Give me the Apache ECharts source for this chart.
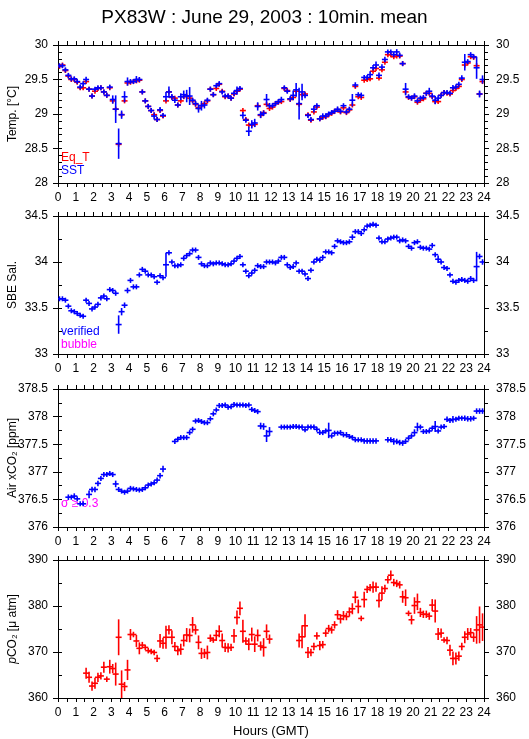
<!DOCTYPE html>
<html><head><meta charset="utf-8">
<script src="https://cdn.jsdelivr.net/npm/echarts@6/dist/echarts.min.js"></script>
<style>html,body{margin:0;padding:0;background:#fff}#c{width:529px;height:739px}</style>
</head><body><div id="c"></div>
<script>
// 10-minute bins over the day (index i -> centre of bin)
const binMinutes = 10;
const hourLabels = ['0','1','2','3','4','5','6','7','8','9','10','11','12','13','14','15','16','17','18','19','20','21','22','23','24'];

const sst = [
29.70,29.70,29.64,29.56,29.51,29.51,29.47,29.39,29.44,29.50,29.36,29.26,
29.36,29.38,29.38,29.32,29.27,29.39,29.21,29.07,28.57,28.99,29.25,29.47,
29.47,29.47,29.50,29.50,29.32,29.19,29.11,29.05,28.97,28.92,29.06,28.98,
29.25,29.32,29.25,29.20,29.13,29.25,29.28,29.26,29.26,29.20,29.15,29.08,
29.12,29.13,29.20,29.36,29.28,29.41,29.44,29.32,29.26,29.26,29.23,29.30,
29.34,29.37,28.98,28.91,28.75,28.85,28.87,29.11,28.99,29.01,29.21,29.12,
29.12,29.15,29.18,29.21,29.38,29.33,29.22,29.27,29.35,29.15,29.32,29.27,
28.98,28.92,29.07,29.12,28.93,28.97,28.97,29.00,29.02,29.04,29.07,29.04,
29.12,29.03,29.07,29.20,29.42,29.28,29.27,29.53,29.53,29.57,29.67,29.71,
29.56,29.68,29.79,29.90,29.90,29.86,29.90,29.85,29.73,29.36,29.25,29.23,
29.26,29.19,29.23,29.24,29.30,29.33,29.26,29.20,29.23,29.27,29.31,29.31,
29.30,29.38,29.39,29.43,29.52,29.75,29.76,29.86,29.83,29.67,29.29,29.50];
const sstSd = [
.02,.02,.03,.03,.02,.02,.03,.02,.03,.04,.03,.02,
.03,.03,.02,.02,.02,.03,.06,.20,.22,.06,.08,.06,
.03,.03,.05,.03,.03,.03,.02,.03,.05,.03,.04,.02,
.07,.08,.04,.04,.03,.05,.06,.09,.13,.03,.04,.06,
.07,.05,.03,.03,.02,.03,.03,.03,.03,.02,.02,.04,
.06,.03,.05,.03,.07,.06,.06,.06,.05,.04,.08,.04,
.03,.03,.03,.04,.03,.03,.04,.07,.10,.23,.12,.04,
.02,.02,.05,.03,.03,.04,.04,.02,.02,.03,.04,.03,
.03,.03,.03,.09,.04,.03,.04,.03,.03,.05,.04,.05,
.04,.04,.04,.03,.03,.03,.04,.04,.03,.09,.03,.03,
.04,.03,.03,.03,.03,.05,.04,.06,.04,.03,.02,.02,
.02,.04,.03,.03,.04,.12,.03,.02,.02,.16,.05,.06];
const eqT = [
29.69,29.71,29.63,29.55,29.50,29.50,29.46,29.38,29.38,29.47,29.36,29.26,
29.33,29.37,29.38,29.32,29.27,29.38,29.19,29.07,28.56,28.99,29.19,29.45,
29.46,29.47,29.48,29.49,29.32,29.19,29.11,29.05,28.99,28.92,29.05,28.97,
29.19,29.32,29.24,29.23,29.13,29.19,29.25,29.26,29.23,29.19,29.14,29.09,
29.12,29.15,29.19,29.36,29.28,29.37,29.43,29.33,29.25,29.26,29.23,29.29,
29.33,29.36,29.05,28.92,28.84,28.84,28.85,29.12,28.98,29.02,29.14,29.08,
29.10,29.15,29.17,29.18,29.37,29.34,29.21,29.24,29.33,29.14,29.28,29.29,
28.99,28.91,29.03,29.10,28.93,28.95,28.96,28.99,29.01,29.04,29.06,29.03,
29.09,29.02,29.06,29.13,29.40,29.25,29.24,29.49,29.50,29.51,29.62,29.66,
29.52,29.64,29.75,29.86,29.86,29.83,29.84,29.84,29.73,29.32,29.24,29.23,
29.25,29.17,29.20,29.22,29.30,29.30,29.25,29.18,29.18,29.27,29.31,29.30,
29.29,29.34,29.37,29.40,29.50,29.71,29.74,29.83,29.82,29.70,29.29,29.47];
const eqTSd = [
.01,.01,.01,.01,.01,.01,.01,.01,.01,.01,.01,.01,
.01,.01,.01,.01,.01,.01,.01,.02,.02,.01,.01,.01,
.01,.01,.01,.01,.01,.01,.01,.01,.01,.01,.01,.01,
.01,.01,.01,.01,.01,.01,.01,.01,.01,.01,.01,.01,
.01,.01,.01,.01,.01,.01,.01,.01,.01,.01,.01,.01,
.01,.01,.01,.01,.01,.01,.01,.01,.01,.01,.01,.01,
.01,.01,.01,.01,.01,.01,.01,.01,.01,.02,.01,.01,
.01,.01,.01,.01,.01,.01,.01,.01,.01,.01,.01,.01,
.01,.01,.01,.01,.01,.01,.01,.01,.01,.01,.01,.01,
.01,.01,.01,.01,.01,.01,.01,.01,.01,.01,.01,.01,
.01,.01,.01,.01,.01,.01,.01,.01,.01,.01,.01,.01,
.01,.01,.01,.01,.01,.02,.01,.01,.01,.02,.01,.01];

const sal = [
33.60,33.60,33.585,33.52,33.47,33.46,33.44,33.42,33.41,33.585,33.55,33.49,
33.51,33.54,33.61,33.63,33.60,33.70,33.69,33.66,33.32,33.46,33.53,33.69,
33.80,33.73,33.73,33.86,33.92,33.90,33.86,33.86,33.84,33.78,33.85,33.83,
33.97,34.10,34.00,33.96,33.96,33.97,34.04,34.07,34.09,34.13,34.13,34.05,
33.98,33.96,33.96,33.99,33.98,33.99,33.99,33.98,33.97,33.97,33.98,34.01,
34.04,34.06,33.97,33.90,33.85,33.88,33.91,33.96,33.95,33.95,34.00,34.00,
34.00,33.99,34.01,34.05,34.05,33.97,33.94,33.95,33.99,33.90,33.90,33.87,
33.82,33.91,34.00,34.03,34.02,34.05,34.11,34.11,34.10,34.17,34.23,34.22,
34.21,34.21,34.22,34.27,34.33,34.33,34.31,34.35,34.39,34.40,34.41,34.40,
34.26,34.22,34.22,34.25,34.26,34.27,34.27,34.23,34.24,34.23,34.17,34.15,
34.21,34.22,34.16,34.15,34.15,34.14,34.18,34.08,34.03,34.00,33.94,33.93,
33.86,33.79,33.78,33.80,33.81,33.80,33.79,33.82,33.80,33.95,34.06,34.00];
const salSd = [
.005,.005,.01,.02,.005,.005,.005,.005,.02,.02,.02,.01,
.01,.01,.02,.01,.01,.02,.01,.02,.10,.04,.03,.03,
.01,.02,.02,.02,.01,.01,.01,.01,.01,.01,.02,.01,
.13,.01,.01,.01,.005,.005,.01,.01,.01,.01,.005,.02,
.01,.005,.005,.005,.005,.005,.005,.005,.005,.005,.005,.01,
.01,.01,.02,.02,.02,.01,.01,.01,.01,.01,.005,.005,
.005,.005,.005,.01,.005,.01,.01,.01,.02,.02,.02,.02,
.01,.02,.01,.01,.005,.01,.005,.005,.005,.02,.005,.005,
.005,.005,.005,.03,.01,.01,.01,.01,.005,.005,.005,.02,
.02,.005,.005,.005,.005,.005,.005,.02,.02,.02,.01,.005,
.02,.02,.005,.005,.005,.005,.01,.005,.04,.005,.005,.005,
.01,.02,.005,.005,.005,.005,.005,.005,.005,.16,.03,.03];

const xco2 = [
null,null,null,376.54,376.54,376.56,376.51,376.42,376.42,null,376.59,376.68,
376.68,376.79,376.88,376.95,376.95,376.97,376.95,376.78,376.68,376.65,376.63,376.65,
376.70,376.69,376.68,376.67,376.68,376.71,376.76,376.78,376.80,376.85,376.93,377.05,
null,null,null,377.55,377.59,377.62,377.62,377.62,377.71,377.77,377.92,377.93,
377.91,377.89,377.89,377.96,378.05,378.12,378.20,378.20,378.21,378.17,378.18,378.22,
378.21,378.21,378.21,378.20,378.21,378.13,378.11,378.09,377.83,377.82,377.65,377.73,
null,null,null,377.81,377.81,377.81,377.81,377.82,377.82,377.81,377.81,377.76,
377.81,377.81,377.81,377.77,377.71,377.71,377.74,377.75,377.65,377.70,377.70,377.71,
377.67,377.67,377.64,377.62,377.58,377.58,377.58,377.56,377.56,377.56,377.56,377.56,
null,null,null,377.58,377.58,377.55,377.55,377.53,377.52,377.55,377.61,377.65,
377.71,377.81,377.81,377.73,377.73,377.74,377.79,377.82,377.74,377.81,377.82,377.95,
377.93,377.95,377.95,377.97,377.97,377.97,377.96,377.96,377.97,378.10,378.10,378.10];
const xco2Sd = [
0,0,0,.05,.03,.05,.03,.04,.03,0,.07,.05,
.05,.05,.03,.03,.03,.03,.03,.06,.03,.03,.03,.03,
.03,.04,.03,.03,.03,.03,.03,.03,.03,.04,.05,.06,
0,0,0,.03,.03,.03,.03,.03,.03,.04,.04,.03,
.03,.03,.03,.03,.03,.03,.03,.03,.03,.03,.03,.03,
.03,.03,.03,.03,.03,.03,.03,.03,.06,.06,.11,.08,
0,0,0,.04,.03,.03,.03,.03,.03,.03,.03,.03,
.03,.03,.03,.03,.04,.04,.03,.14,.03,.03,.03,.04,
.03,.05,.03,.04,.03,.04,.03,.05,.05,.05,.05,.05,
0,0,0,.05,.04,.06,.05,.05,.05,.04,.04,.03,
.06,.08,.04,.04,.04,.03,.04,.10,.04,.03,.03,.05,
.04,.06,.04,.03,.03,.05,.05,.05,.04,.05,.05,.05];

const pco2 = [
null,null,null,null,null,null,null,null,null,365.4,364.5,362.6,
363.2,364.5,364.8,366.7,364.1,366.8,366.4,365.2,373.2,363.0,362.5,366.1,
373.8,373.8,372.4,370.8,371.5,371.0,370.3,370.1,369.9,368.6,372.4,371.9,
373.2,374.8,373.2,371.2,370.3,370.6,372.5,373.7,373.6,375.9,374.8,372.1,
369.7,369.7,369.9,373.0,372.6,373.6,374.5,372.5,371.0,370.9,371.0,373.5,
377.5,379.5,374.5,372.4,371.7,373.8,371.7,373.6,371.3,371.0,374.5,372.8,
null,null,null,null,null,null,null,null,null,372.5,373.3,375.7,
369.9,369.9,371.2,373.5,371.4,371.6,374.1,375.1,374.8,375.9,378.1,377.2,
377.9,377.7,378.7,379.4,381.9,379.9,377.3,381.4,383.6,384.0,384.1,384.1,
381.2,382.8,383.8,385.7,386.7,385.1,384.9,384.6,382.0,381.8,378.4,377.0,
380.1,380.9,378.6,378.2,378.2,377.8,380.2,378.9,373.9,374.1,372.6,372.5,
370.4,368.6,368.6,369.1,371.2,373.2,373.9,374.2,373.2,374.8,375.9,375.4];
const pco2Sd = [
0,0,0,0,0,0,0,0,0,1.2,1.2,1.0,
1.2,1.0,0.8,1.2,0.6,1.5,1.0,2.5,3.9,3.0,1.0,2.2,
1.2,0.6,1.3,1.3,0.7,0.6,0.6,0.6,0.6,0.8,1.5,1.2,
2.5,1.0,1.5,1.0,1.0,1.2,1.3,1.5,1.5,1.7,1.0,1.5,
1.2,1.0,1.5,0.8,0.6,1.2,1.3,1.5,1.0,1.0,0.8,1.5,
1.5,1.5,2.5,0.8,1.3,1.5,1.7,1.3,1.0,2.0,1.5,1.0,
0,0,0,0,0,0,0,0,0,1.5,2.5,2.5,
1.2,0.8,0.8,0.8,1.0,0.8,0.8,0.8,0.8,0.8,1.0,1.0,
1.0,0.8,1.0,1.2,1.3,1.5,0.6,1.7,0.8,0.8,1.2,1.0,
1.5,1.5,0.8,0.8,1.0,0.8,0.8,0.8,1.3,1.8,0.6,1.0,
1.8,1.8,1.0,0.8,0.8,0.8,1.3,2.5,1.3,1.0,0.6,0.8,
1.2,1.5,1.3,1.0,0.8,1.3,1.3,1.0,1.0,3.0,4.0,3.0];

const FONT = '"Liberation Sans", Arial, Helvetica, sans-serif';
const BLACK = '#000';

function toPoints(vals, sds) {
  const out = [];
  vals.forEach((v, i) => {
    if (v === null) return;
    const t = (i + 0.5) * binMinutes / 60;
    out.push([t, v, sds[i]]);
  });
  return out;
}

function crossRender(color) {
  return function (params, api) {
    const t = api.value(0), v = api.value(1), sd = api.value(2);
    const c = api.coord([t, v]);
    const hi = api.coord([t, v + sd]);
    const lo = api.coord([t, v - sd]);
    const top = Math.min(hi[1], c[1] - 2.5);
    const bot = Math.max(lo[1], c[1] + 2.5);
    const st = { stroke: color, lineWidth: 1.6 };
    return {
      type: 'group',
      children: [
        { type: 'line', shape: { x1: c[0] - 3, y1: c[1], x2: c[0] + 3, y2: c[1] }, style: st },
        { type: 'line', shape: { x1: c[0], y1: top, x2: c[0], y2: bot }, style: st }
      ]
    };
  };
}

const panels = [
  { top: 45, min: 28, max: 30, major: 0.5, minor: 0.1, split: 5, name: 'Temp. [°C]' },
  { top: 216, min: 33, max: 34.5, major: 0.5, minor: 0.25, split: 2, name: 'SBE Sal.' },
  { top: 389, min: 376, max: 378.5, major: 0.5, minor: 0.25, split: 2, name: 'Air xCO₂ [ppm]' },
  { top: 560, min: 360, max: 390, major: 10, minor: 5, split: 2, name: '{i|p}CO₂ [μ atm]' }
];
const H = 138;

const grid = [], xAxis = [], yAxis = [];
panels.forEach((p, g) => {
  grid.push({ left: 58, right: 45, top: p.top, height: H, containLabel: false, outerBoundsMode: 'none' });
  const lineStyle = { color: BLACK, width: 1 };
  xAxis.push({
    gridIndex: g, type: 'value', min: 0, max: 24, interval: 1, position: 'bottom',
    axisLine: { show: true, onZero: false, lineStyle },
    axisTick: { show: true, length: 4, lineStyle },
    minorTick: { show: true, splitNumber: 2, length: 4, lineStyle },
    axisLabel: { show: true, color: BLACK, fontSize: 12, fontFamily: FONT, margin: 9,
      formatter: (v) => hourLabels[Math.round(v)] },
    splitLine: { show: false },
    name: g === 3 ? 'Hours (GMT)' : '', nameLocation: 'middle', nameGap: 27, nameMoveOverlap: false,
    nameTextStyle: { color: BLACK, fontSize: 13, fontFamily: FONT }
  });
  xAxis.push({
    gridIndex: g, type: 'value', min: 0, max: 24, interval: 1, position: 'top',
    axisLine: { show: true, onZero: false, lineStyle },
    axisTick: { show: true, length: 4, lineStyle },
    minorTick: { show: true, splitNumber: 2, length: 4, lineStyle },
    axisLabel: { show: false }, splitLine: { show: false }
  });
  yAxis.push({
    gridIndex: g, type: 'value', min: p.min, max: p.max, interval: p.major, position: 'left',
    axisLine: { show: true, onZero: false, lineStyle },
    axisTick: { show: true, length: 5, lineStyle },
    axisLabel: { show: true, color: BLACK, fontSize: 12, fontFamily: FONT, margin: 10 },
    splitLine: { show: false },
    name: p.name, nameLocation: 'middle', nameGap: 39, nameMoveOverlap: false,
    nameTextStyle: { color: BLACK, fontSize: 12, fontFamily: FONT,
      rich: { i: { fontStyle: 'italic', fontSize: 12, fontFamily: FONT, color: BLACK } } }
  });
  yAxis.push({
    gridIndex: g, type: 'value', min: p.min, max: p.max, interval: p.minor, position: 'left',
    axisLine: { show: false },
    axisTick: { show: true, inside: true, length: 4, lineStyle },
    axisLabel: { show: false }, splitLine: { show: false }
  });
  yAxis.push({
    gridIndex: g, type: 'value', min: p.min, max: p.max, interval: p.major, position: 'right',
    axisLine: { show: true, onZero: false, lineStyle },
    axisTick: { show: true, length: 5, lineStyle },
    minorTick: { show: true, splitNumber: p.split, length: 4, lineStyle },
    axisLabel: { show: true, color: BLACK, fontSize: 12, fontFamily: FONT, margin: 12 },
    splitLine: { show: false }
  });
});

function cs(g, vals, sds, color, name) {
  return {
    type: 'custom', name, xAxisIndex: 2 * g, yAxisIndex: 3 * g,
    renderItem: crossRender(color), data: toPoints(vals, sds),
    encode: { x: 0, y: 1 }, clip: true, silent: true, animation: false
  };
}

const series = [
  cs(0, eqT, eqTSd, '#ff0000', 'Eq_T'),
  cs(0, sst, sstSd, '#0000ff', 'SST'),
  cs(1, sal, salSd, '#0000ff', 'verified'),
  cs(2, xco2, xco2Sd, '#0000ff', 'Air xCO2'),
  cs(3, pco2, pco2Sd, '#ff0000', 'pCO2')
];

function label(x, y, text, color) {
  return { type: 'text', left: x, top: y, silent: true,
    style: { text, fill: color, font: '12px ' + FONT } };
}

const chart = echarts.init(document.getElementById('c'), null, { renderer: 'canvas' });
chart.setOption({
  animation: false,
  backgroundColor: '#fff',
  title: { text: 'PX83W : June 29, 2003 : 10min. mean', left: 'center', top: 3,
    textStyle: { color: BLACK, fontSize: 19, fontWeight: 'normal', fontFamily: FONT } },
  grid, xAxis, yAxis, series,
  graphic: [
    label(61, 152, 'Eq_T', '#ff0000'),
    label(61, 165, 'SST', '#0000ff'),
    label(61, 326, 'verified', '#0000ff'),
    label(61, 339, 'bubble', '#ff00ff'),
    label(61, 498, 'σ ≥ 0.3', '#ff00ff')
  ]
});
</script>
</body></html>
